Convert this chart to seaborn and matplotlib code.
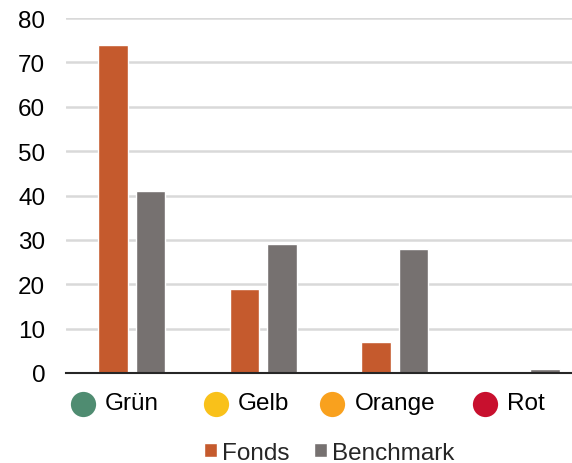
import numpy as np
import pandas as pd
import seaborn as sns
import matplotlib.pyplot as plt

# data
categories = ["Grün", "Gelb", "Orange", "Rot"]
fonds = [74, 19, 7, 0]
benchmark = [41, 29, 28, 1]
series_names = ["Fonds", "Benchmark"]
bar_colors = ["#C55A2D", "#767170"]
dot_colors = ["#4F8C71", "#F9C11A", "#F9A11E", "#C8102E"]

df = pd.DataFrame({
    "Kategorie": categories * 2,
    "Wert": fonds + benchmark,
    "Serie": [series_names[0]] * 4 + [series_names[1]] * 4,
})

sns.set_style("white")
plt.rcParams["font.family"] = ["Liberation Sans", "DejaVu Sans"]
fs = 17.5

fig = plt.figure(figsize=(5.72, 4.64), dpi=100)
ax = fig.add_axes([66 / 572, 1 - 374 / 464, 526 / 572, 355 / 464])

sns.barplot(data=df, x="Kategorie", y="Wert", hue="Serie", order=categories,
            hue_order=series_names, palette=bar_colors, width=0.572, gap=0.21,
            saturation=1, ax=ax)

ax.set_ylim(0, 80)
ax.set_xlim(-0.5, 3.5)
ax.set_yticks(np.arange(0, 81, 10))
ax.yaxis.grid(True, color="#D9D9D9", linewidth=1.8)
ax.set_axisbelow(True)
for s in ["top", "right", "left"]:
    ax.spines[s].set_visible(False)
ax.spines["bottom"].set_color("#262626")
ax.spines["bottom"].set_linewidth(1.5)
ax.set_xlabel("")
ax.set_ylabel("")
ax.tick_params(axis="y", length=0, pad=15, labelsize=fs, labelcolor="black")
ax.tick_params(axis="x", length=0, pad=14, labelsize=fs, labelcolor="black")

ax.legend(loc="center", bbox_to_anchor=(0.5, -0.224), ncol=2, frameon=False,
          fontsize=fs, handlelength=0.55, handleheight=0.55, handletextpad=0.2,
          columnspacing=1.0, borderpad=0.2)

# coloured dots in front of the category labels
fig.canvas.draw()
renderer = fig.canvas.get_renderer()
inv = ax.transData.inverted()
for lab, col in zip(ax.get_xticklabels(), dot_colors):
    bb = lab.get_window_extent(renderer)
    px, py = inv.transform((bb.x0 - 22, (bb.y0 + bb.y1) / 2 - 1))
    ax.scatter([px], [py], s=330, color=col, clip_on=False, linewidths=0, zorder=5)

fig.savefig("out.png", dpi=100)
